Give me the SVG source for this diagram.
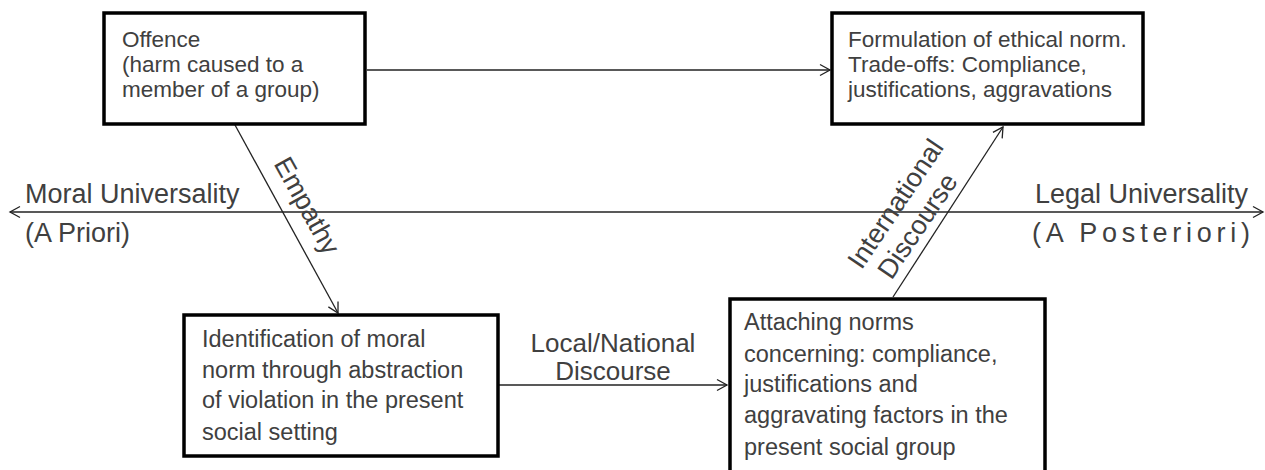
<svg xmlns="http://www.w3.org/2000/svg" width="1265" height="470" viewBox="0 0 1265 470">
<style>
.box{fill:#fff;stroke:#000;stroke-width:3.5}
.t{font-family:"Liberation Sans",Arial,sans-serif;fill:#404040}
.s{font-size:22.5px}
.m{font-size:23.5px}
.b{font-size:27px}
.l{font-size:26px}
.c{fill:none;stroke:#222;stroke-width:1.3}
</style>
<defs>
<marker id="ah" markerUnits="userSpaceOnUse" markerWidth="14" markerHeight="14" viewBox="0 0 14 14" refX="12" refY="7" orient="auto-start-reverse">
<path d="M2,1.5 L12,7 L2,12.5" fill="none" stroke="#222" stroke-width="1.3"/>
</marker>
</defs>
<rect width="1265" height="470" fill="#fff"/>
<g id="connectors">
<line class="c" x1="367" y1="70" x2="830" y2="70" marker-end="url(#ah)"/>
<line class="c" x1="10" y1="212" x2="1263" y2="212" marker-start="url(#ah)" marker-end="url(#ah)"/>
<line class="c" x1="235" y1="125" x2="338" y2="313" marker-end="url(#ah)"/>
<line class="c" x1="499" y1="385" x2="727" y2="385" marker-end="url(#ah)"/>
<line class="c" x1="893" y1="297" x2="1003" y2="127" marker-end="url(#ah)"/>
<text class="t b" transform="translate(299,210) rotate(61)" text-anchor="middle">Empathy</text>
<text class="t b" text-anchor="middle" transform="translate(903,209) rotate(-56)">International</text>
<text class="t b" text-anchor="middle" transform="translate(925,231) rotate(-56)">Discourse</text>
<text class="t l" x="613" y="352" text-anchor="middle">Local/National</text>
<text class="t l" x="613" y="380" text-anchor="middle">Discourse</text>
</g>
<g id="offence">
<rect class="box" x="104" y="13" width="261" height="111"/>
<text class="t s" x="122" y="47">Offence</text>
<text class="t s" x="122" y="72">(harm caused to a</text>
<text class="t s" x="122" y="97">member of a group)</text>
</g>
<g id="formulation">
<rect class="box" x="832" y="13" width="311" height="111"/>
<text class="t s" x="848" y="47">Formulation of ethical norm.</text>
<text class="t s" x="848" y="72">Trade-offs: Compliance,</text>
<text class="t s" x="848" y="97">justifications, aggravations</text>
</g>
<g id="identification">
<rect class="box" x="184" y="315" width="314" height="141"/>
<text class="t m" x="202" y="347">Identification of moral</text>
<text class="t m" x="202" y="378">norm through abstraction</text>
<text class="t m" x="202" y="408">of violation in the present</text>
<text class="t m" x="202" y="440">social setting</text>
</g>
<g id="attaching">
<rect class="box" x="730" y="299" width="315" height="180"/>
<text class="t m" x="744" y="330">Attaching norms</text>
<text class="t m" x="744" y="362">concerning: compliance,</text>
<text class="t m" x="744" y="392">justifications and</text>
<text class="t m" x="744" y="423">aggravating factors in the</text>
<text class="t m" x="744" y="455">present social group</text>
</g>
<g id="universality">
<text class="t b" x="25" y="203">Moral Universality</text>
<text class="t b" x="25" y="242">(A Priori)</text>
<text class="t b" x="1248" y="203" text-anchor="end">Legal Universality</text>
<text class="t b" x="1032" y="242" textLength="218">(A Posteriori)</text>
</g>
</svg>
